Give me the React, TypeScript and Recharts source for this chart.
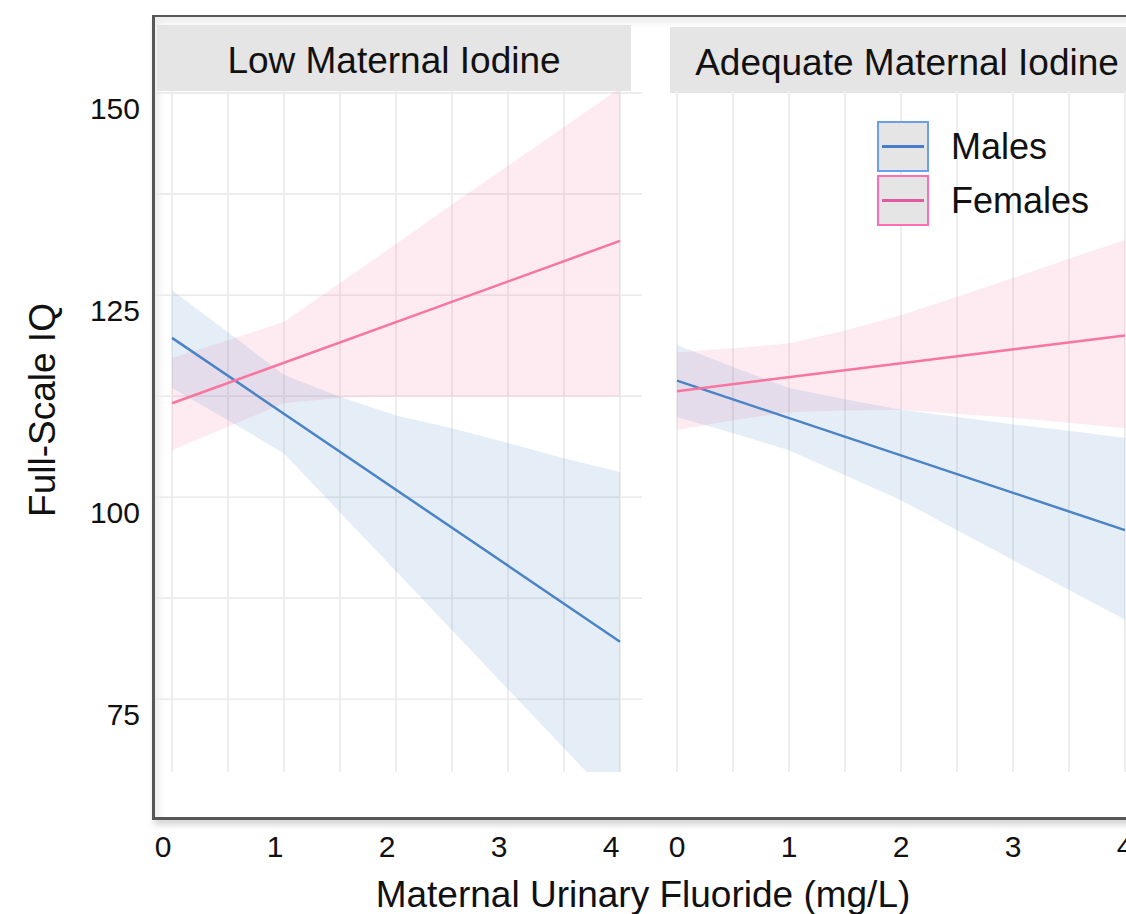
import { ComposedChart, Area, Line, XAxis, YAxis, CartesianGrid, Legend } from "recharts";

const FONT = "'Liberation Sans', Arial, Helvetica, sans-serif";

// shared axes
const fluoride = [0, 0.5, 1, 1.5, 2, 2.5, 3, 3.5, 4];
const fitEnds = [0, 4];
const iqGridTicks = [75, 87.5, 100, 112.5, 125, 137.5, 150];
const iqLabels = [75, 100, 125, 150];
const fluorideLabels = [0, 1, 2, 3, 4];

const panelTitles = ["Low Maternal Iodine", "Adequate Maternal Iodine"];
const seriesNames = ["Males", "Females"];

// Low maternal iodine panel
const lowMaleLower = [113.5, 109.5, 105.4, 98.1, 90.8, 83.5, 76.2, 68.9, 61.6];
const lowMaleUpper = [125.6, 120.4, 115.1, 112.4, 110.1, 108.5, 106.7, 104.8, 103.1];
const lowFemaleLower = [105.8, 108.7, 111.6, 112.3, 112.4, 112.4, 112.4, 112.4, 112.4];
const lowFemaleUpper = [117.2, 119.4, 121.7, 126.5, 131.3, 136.2, 141.0, 145.8, 150.6];
const lowMaleFit = [119.7, 82.1];
const lowFemaleFit = [111.6, 131.7];

// Adequate maternal iodine panel
const adqMaleLower = [109.9, 107.9, 105.8, 102.7, 99.6, 95.9, 92.2, 88.5, 84.8];
const adqMaleUpper = [118.8, 116.1, 113.5, 112.1, 110.8, 109.9, 109.0, 108.2, 107.3];
const adqFemaleLower = [108.3, 109.5, 110.5, 110.7, 110.8, 110.3, 109.8, 109.2, 108.5];
const adqFemaleUpper = [117.9, 118.4, 119.0, 120.6, 122.5, 124.8, 127.1, 129.5, 131.8];
const adqMaleFit = [114.4, 95.9];
const adqFemaleFit = [113.1, 120.0];

const MALE_COLOR = "#4a84c6";
const FEMALE_COLOR = "#f7759f";
const legendLook = [
  { border: "#6d9eeb", line: "#4a7ccc" },
  { border: "#ff6eb4", line: "#e45a9e" },
];

function buildRows(
  maleLower: number[],
  maleUpper: number[],
  femaleLower: number[],
  femaleUpper: number[],
  maleFit: number[],
  femaleFit: number[]
) {
  return fluoride.map((x, i) => {
    const k = fitEnds.indexOf(x);
    return {
      x,
      maleBand: [maleLower[i], maleUpper[i]],
      femaleBand: [femaleLower[i], femaleUpper[i]],
      maleFit: k >= 0 ? maleFit[k] : null,
      femaleFit: k >= 0 ? femaleFit[k] : null,
    };
  });
}

const lowRows = buildRows(lowMaleLower, lowMaleUpper, lowFemaleLower, lowFemaleUpper, lowMaleFit, lowFemaleFit);
const adqRows = buildRows(adqMaleLower, adqMaleUpper, adqFemaleLower, adqFemaleUpper, adqMaleFit, adqFemaleFit);

const makeXTick = (shift: number) => (props: any) => {
  const { x, y, payload } = props;
  if (!fluorideLabels.includes(payload.value)) return <g />;
  return (
    <text x={x + shift} y={y + 85} textAnchor="middle" fontSize={30} fontFamily={FONT} fill="#111">
      {payload.value}
    </text>
  );
};

const YTick = (props: any) => {
  const { x, y, payload } = props;
  if (!iqLabels.includes(payload.value)) return <g />;
  return (
    <text x={x - 15} y={y + 26} textAnchor="end" fontSize={30} fontFamily={FONT} fill="#111">
      {payload.value}
    </text>
  );
};

const renderLegend = (props: any) => {
  const items = (props.payload || [])
    .filter((e: any) => seriesNames.includes(e.value))
    .sort((a: any, b: any) => seriesNames.indexOf(a.value) - seriesNames.indexOf(b.value));
  return (
    <div style={{ fontFamily: FONT }}>
      {items.map((entry: any) => {
        const look = legendLook[seriesNames.indexOf(entry.value)];
        return (
          <div key={entry.value} style={{ display: "flex", alignItems: "center", marginBottom: 3 }}>
            <div
              style={{
                width: 48,
                height: 47,
                border: `2px solid ${look.border}`,
                background: "#e5e5e5",
                display: "flex",
                alignItems: "center",
                justifyContent: "center",
              }}
            >
              <div style={{ width: 42, height: 3, background: look.line }} />
            </div>
            <span style={{ marginLeft: 22, fontSize: 36, color: "#111" }}>{entry.value}</span>
          </div>
        );
      })}
    </div>
  );
};

interface PanelProps {
  rows: ReturnType<typeof buildRows>;
  width: number;
  axisWidth: number;
  rightMargin: number;
  xDomain: [number, number];
  labelShift: number;
  showYLabels?: boolean;
  showLegend?: boolean;
}

function Panel({ rows, width, axisWidth, rightMargin, xDomain, labelShift, showYLabels, showLegend }: PanelProps) {
  return (
    <ComposedChart width={width} height={914} data={rows} margin={{ top: 91, right: rightMargin, bottom: 0, left: 0 }}>
      <CartesianGrid stroke="#ececec" strokeWidth={1.8} syncWithTicks />
      <XAxis
        dataKey="x"
        type="number"
        domain={xDomain}
        allowDataOverflow
        ticks={fluoride}
        interval={0}
        height={142}
        axisLine={false}
        tickLine={false}
        tickSize={0}
        tickMargin={0}
        tick={makeXTick(labelShift)}
      />
      <YAxis
        type="number"
        domain={[65.97, 150.25]}
        allowDataOverflow
        ticks={iqGridTicks}
        interval={0}
        width={axisWidth}
        axisLine={false}
        tickLine={false}
        tickSize={0}
        tickMargin={0}
        tick={showYLabels ? YTick : false}
      />
      <Area
        type="linear"
        dataKey="femaleBand"
        fill={FEMALE_COLOR}
        fillOpacity={0.15}
        stroke="none"
        legendType="none"
        isAnimationActive={false}
      />
      <Area
        type="linear"
        dataKey="maleBand"
        fill={MALE_COLOR}
        fillOpacity={0.14}
        stroke="none"
        legendType="none"
        isAnimationActive={false}
      />
      <Line
        type="linear"
        dataKey="maleFit"
        name={seriesNames[0]}
        stroke={MALE_COLOR}
        strokeWidth={2.5}
        dot={false}
        connectNulls
        isAnimationActive={false}
      />
      <Line
        type="linear"
        dataKey="femaleFit"
        name={seriesNames[1]}
        stroke={FEMALE_COLOR}
        strokeWidth={2.5}
        dot={false}
        connectNulls
        isAnimationActive={false}
      />
      {showLegend && (
        <Legend
          layout="vertical"
          align="center"
          verticalAlign="middle"
          content={renderLegend}
          wrapperStyle={{ left: 237, top: 121, width: 260, height: 110 }}
        />
      )}
    </ComposedChart>
  );
}

export default function App() {
  const stripStyle = {
    position: "absolute" as const,
    height: 66,
    width: 474,
    paddingTop: 5,
    boxSizing: "border-box" as const,
    background: "#e5e5e5",
    display: "flex",
    alignItems: "center",
    justifyContent: "center",
    fontSize: 37,
    color: "#111",
    whiteSpace: "nowrap" as const,
  };
  return (
    <div
      style={{
        position: "absolute",
        left: 0,
        top: 0,
        width: 1126,
        height: 914,
        overflow: "hidden",
        background: "#fff",
        fontFamily: FONT,
      }}
    >
      <div
        style={{
          position: "absolute",
          left: 152,
          top: 15,
          width: 1100,
          height: 800,
          borderTop: "2px solid #575757",
          borderLeft: "3px solid #575757",
          borderBottom: "3px solid #575757",
          boxShadow: "inset 5px 6px 6px rgba(0,0,0,0.07), 2px 5px 6px rgba(0,0,0,0.16)",
        }}
      />
      <div style={{ ...stripStyle, left: 157, top: 25 }}>{panelTitles[0]}</div>
      <div style={{ ...stripStyle, left: 670, top: 27 }}>{panelTitles[1]}</div>
      <div style={{ position: "absolute", left: 0, top: 0 }}>
        <Panel
          rows={lowRows}
          width={660}
          axisWidth={155}
          rightMargin={18}
          xDomain={[-0.1518, 4.1964]}
          labelShift={-9}
          showYLabels
        />
      </div>
      <div style={{ position: "absolute", left: 640, top: 0 }}>
        <Panel
          rows={adqRows}
          width={520}
          axisWidth={15}
          rightMargin={10}
          xDomain={[-0.1964, 4.2232]}
          labelShift={0}
          showLegend
        />
      </div>
      <svg width={1126} height={914} style={{ position: "absolute", left: 0, top: 0, pointerEvents: "none" }}>
        <text
          x={55}
          y={410}
          transform="rotate(-90 55 410)"
          textAnchor="middle"
          fontSize={37}
          fontFamily={FONT}
          fill="#111"
        >
          Full-Scale IQ
        </text>
        <text x={643} y={907} textAnchor="middle" fontSize={37} fontFamily={FONT} fill="#111">
          Maternal Urinary Fluoride (mg/L)
        </text>
      </svg>
    </div>
  );
}
